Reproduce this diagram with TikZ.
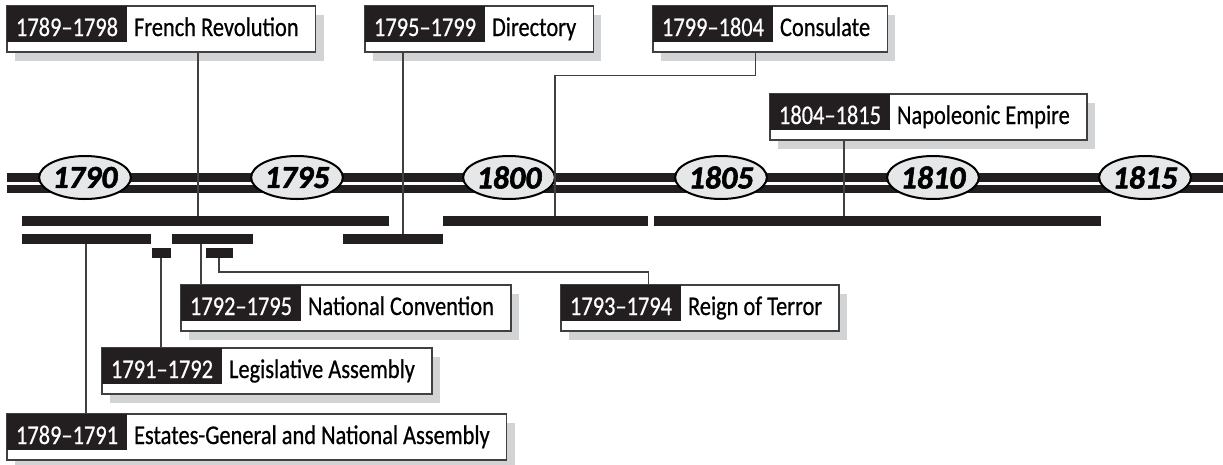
\documentclass[tikz,border=0pt]{standalone}
\usepackage{fontspec}
\setmainfont{Carlito}[FakeStretch=0.83, FakeBold=0.6]
\newfontfamily\yearfont{Carlito}[BoldItalicFeatures={FakeBold=1.8}]
\usetikzlibrary{positioning, fit, backgrounds, shapes.geometric}
\definecolor{Tagblack}{RGB}{35,31,32}
\definecolor{Shade}{RGB}{209,211,212}
\definecolor{Oval}{RGB}{230,231,232}

\begin{document}
\begin{tikzpicture}[
  x=1pt, y=-1pt,
  font=\fontsize{27}{30}\selectfont,
  rail/.style={line width=9pt, draw=Tagblack},
  yr/.style={ellipse, draw=black, line width=2pt, fill=Oval,
             minimum width=87pt, minimum height=43pt, inner sep=0pt,
             font=\yearfont\fontsize{32}{32}\selectfont\bfseries\itshape},
  bar/.style={fill=Tagblack, anchor=north west, inner sep=0pt,
              outer sep=0pt, minimum height=10pt},
  datetag/.style={fill=Tagblack, text=white, anchor=north west,
                  inner xsep=9pt, inner ysep=0pt, outer sep=0pt,
                  text height=30pt, text depth=6pt},
  evname/.style={inner xsep=7pt, inner ysep=0pt, outer sep=0pt,
                 text height=30pt, text depth=6pt},
  evbox/.style={draw=black!75, line width=1.4pt, fill=white, inner sep=0pt,
                preaction={fill=Shade, transform canvas={xshift=8pt, yshift=-9pt}}},
  link/.style={draw=black!75, line width=1.4pt}
]
\useasboundingbox (0,0) rectangle (1223,464);

% time line
\draw[rail] (7,177) -- (1223,177);
\draw[rail, line width=8.5pt] (7,189) -- (1223,189);
\foreach \yy [count=\i from 0] in {1790,1795,...,1815}
  \node[yr] (y\yy) at (85+212*\i,177.5) {\yy};

% periods
\node[bar, minimum width=367pt] (rev)    at (22,216)  {};
\node[bar, minimum width=205pt] (cons)   at (443,216) {};
\node[bar, minimum width=447pt] (emp)    at (654,216) {};
\node[bar, minimum width=129pt] (estate) at (22,234)  {};
\node[bar, minimum width=81pt]  (conv)   at (172,234) {};
\node[bar, minimum width=100pt] (direct) at (343,234) {};
\node[bar, minimum width=19pt]  (legis)  at (152,248) {};
\node[bar, minimum width=27pt]  (terror) at (206,248) {};

% labels
\node[datetag] (revtag) at (7,6) {1789--1798};
\node[evname, right=0pt of revtag] (revname) {French Revolution};
\node[datetag] (dirtag) at (365,6) {1795--1799};
\node[evname, right=0pt of dirtag] (dirname) {Directory};
\node[datetag] (contag) at (653,6) {1799--1804};
\node[evname, right=0pt of contag] (conname) {Consulate};
\node[datetag] (naptag) at (770,94) {1804--1815};
\node[evname, right=0pt of naptag] (napname) {Napoleonic Empire};
\node[datetag] (cvtag) at (181,285) {1792--1795};
\node[evname, right=0pt of cvtag] (cvname) {National Convention};
\node[datetag] (tertag) at (561,285) {1793--1794};
\node[evname, right=0pt of tertag] (tername) {Reign of Terror};
\node[datetag] (legtag) at (102,348) {1791--1792};
\node[evname, right=0pt of legtag] (legname) {Legislative Assembly};
\node[datetag] (esttag) at (7,414) {1789--1791};
\node[evname, right=0pt of esttag] (estname) {Estates-General and National Assembly};

\begin{scope}[on background layer]
  \node[evbox, fit={(revtag.north west)([shift={(10pt,-10pt)}]revname.south east)}] (revbox) {};
  \node[evbox, fit={(dirtag.north west)([shift={(10pt,-10pt)}]dirname.south east)}] (dirbox) {};
  \node[evbox, fit={(contag.north west)([shift={(10pt,-10pt)}]conname.south east)}] (conbox) {};
  \node[evbox, fit={(naptag.north west)([shift={(10pt,-10pt)}]napname.south east)}] (napbox) {};
  \node[evbox, fit={(cvtag.north west)([shift={(10pt,-10pt)}]cvname.south east)}] (cvbox) {};
  \node[evbox, fit={(tertag.north west)([shift={(10pt,-10pt)}]tername.south east)}] (terbox) {};
  \node[evbox, fit={(legtag.north west)([shift={(10pt,-10pt)}]legname.south east)}] (legbox) {};
  \node[evbox, fit={(esttag.north west)([shift={(10pt,-10pt)}]estname.south east)}] (estbox) {};
\end{scope}

% connectors
\coordinate (revx) at (198,0);
\coordinate (dirx) at (403,0);
\coordinate (conx) at (555,0);
\coordinate (napx) at (844,0);
\coordinate (estx) at (86,0);
\coordinate (legx) at (161,0);
\coordinate (cvx)  at (201,0);
\coordinate (terx) at (219,0);
\draw[link] (revx |- revbox.south) -- (revx |- rev.north);
\draw[link] (dirx |- dirbox.south) -- (dirx |- direct.north);
\draw[link] ([xshift=103pt]conbox.south west) -- ++(0,23) -| (conx |- cons.north);
\draw[link] (napx |- napbox.south) -- (napx |- emp.north);
\draw[link] (estx |- estate.south) -- (estx |- estbox.north);
\draw[link] (legx |- legis.south) -- (legx |- legbox.north);
\draw[link] (cvx |- conv.south) -- (cvx |- cvbox.north);
\draw[link] (terx |- terror.south) -- ++(0,14) -| ([xshift=88pt]terbox.north west);
\end{tikzpicture}
\end{document}
